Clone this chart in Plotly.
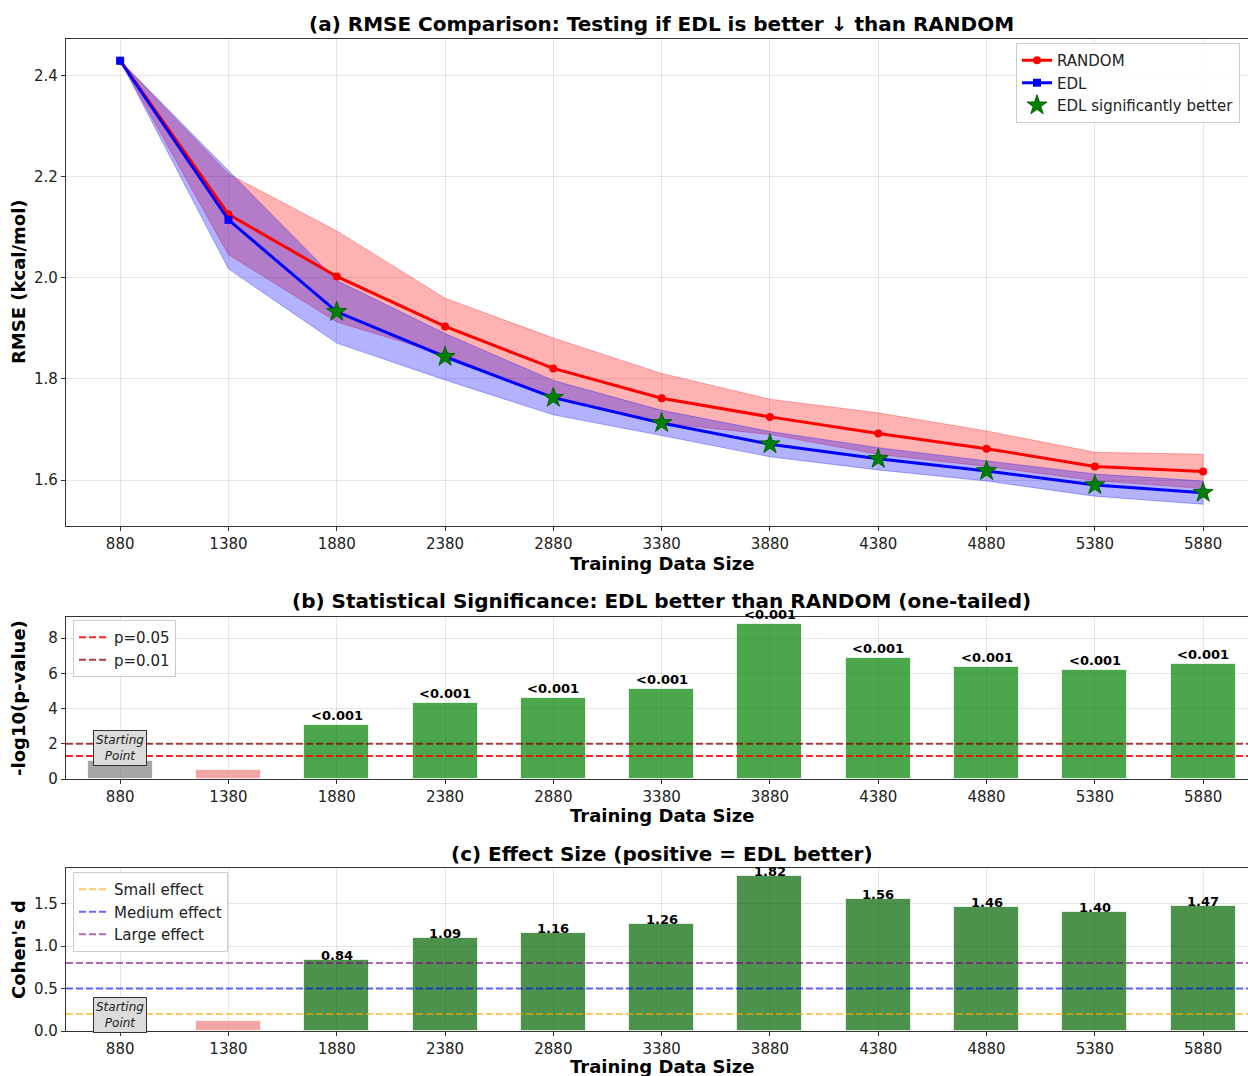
import plotly.graph_objects as go

# ---------------- data ----------------
sizes = [880, 1380, 1880, 2380, 2880, 3380, 3880, 4380, 4880, 5380, 5880]
rmse_random = [2.430, 2.126, 2.003, 1.904, 1.821, 1.762, 1.725, 1.692, 1.662, 1.627, 1.617]
std_random = [0.000, 0.080, 0.090, 0.056, 0.060, 0.049, 0.035, 0.041, 0.035, 0.028, 0.034]
rmse_edl = [2.430, 2.115, 1.933, 1.844, 1.763, 1.713, 1.671, 1.642, 1.618, 1.590, 1.575]
std_edl = [0.000, 0.097, 0.062, 0.046, 0.034, 0.025, 0.025, 0.022, 0.020, 0.022, 0.023]
significant = [False, False, True, True, True, True, True, True, True, True, True]
neglog_p = [1.00, 0.51, 3.06, 4.32, 4.62, 5.13, 8.78, 6.89, 6.36, 6.17, 6.53]
p_labels = ["", "", "<0.001", "<0.001", "<0.001", "<0.001", "<0.001", "<0.001", "<0.001", "<0.001", "<0.001"]
cohens_d = [0.0, 0.12, 0.84, 1.09, 1.16, 1.26, 1.82, 1.56, 1.46, 1.40, 1.47]
bar_kind = ["start", "ns", "sig", "sig", "sig", "sig", "sig", "sig", "sig", "sig", "sig"]
p_thresholds = [("p=0.05", 1.30103, "rgba(255,0,0,0.85)"), ("p=0.01", 2.0, "rgba(139,0,0,0.75)")]
d_thresholds = [("Small effect", 0.2, "rgba(255,165,0,0.6)"),
                ("Medium effect", 0.5, "rgba(0,0,255,0.6)"),
                ("Large effect", 0.8, "rgba(128,0,128,0.6)")]
tick_vals = sizes

# ---------------- layout geometry ----------------
W, H = 1248, 1076
L, R, T, B = 66, 0, 39, 45
plot_h = H - T - B
def py(px):  # pixel y -> paper y
    return (H - B - px) / plot_h
def pxx(px):
    return (px - L) / (W - L - R)

XR = [630, 630 + (W - L) / ((1203 - 120) / 5000)]
FONT = "DejaVu Sans"

fig = go.Figure()

# ---------------- panel (a) ----------------
upper_r = [m + s for m, s in zip(rmse_random, std_random)]
lower_r = [m - s for m, s in zip(rmse_random, std_random)]
upper_e = [m + s for m, s in zip(rmse_edl, std_edl)]
lower_e = [m - s for m, s in zip(rmse_edl, std_edl)]

fig.add_trace(go.Scatter(x=sizes + sizes[::-1], y=upper_r + lower_r[::-1], fill="toself",
                         fillcolor="rgba(255,0,0,0.3)", line=dict(color="rgba(255,0,0,0.3)", width=1),
                         hoverinfo="skip", showlegend=False, xaxis="x", yaxis="y"))
fig.add_trace(go.Scatter(x=sizes + sizes[::-1], y=upper_e + lower_e[::-1], fill="toself",
                         fillcolor="rgba(0,0,255,0.3)", line=dict(color="rgba(0,0,255,0.3)", width=1),
                         hoverinfo="skip", showlegend=False, xaxis="x", yaxis="y"))
fig.add_trace(go.Scatter(x=sizes, y=rmse_random, mode="lines+markers", name="RANDOM",
                         line=dict(color="red", width=3), marker=dict(symbol="circle", size=8, color="red"),
                         legend="legend", xaxis="x", yaxis="y"))
fig.add_trace(go.Scatter(x=sizes, y=rmse_edl, mode="lines+markers", name="EDL",
                         line=dict(color="blue", width=3), marker=dict(symbol="square", size=8, color="blue"),
                         legend="legend", xaxis="x", yaxis="y"))
sx = [s for s, f in zip(sizes, significant) if f]
sy = [v for v, f in zip(rmse_edl, significant) if f]
fig.add_trace(go.Scatter(x=sx, y=sy, mode="markers", name="EDL significantly better",
                         marker=dict(symbol="star", size=15, color="green", line=dict(color="darkgreen", width=1)),
                         legend="legend", xaxis="x", yaxis="y"))

# ---------------- panel (b) ----------------
col_b = {"start": "rgba(128,128,128,0.7)", "ns": "rgba(240,128,128,0.7)", "sig": "rgba(0,128,0,0.7)"}
col_c = {"start": "rgba(128,128,128,0.7)", "ns": "rgba(240,128,128,0.7)", "sig": "rgba(0,100,0,0.7)"}
fig.add_trace(go.Bar(x=sizes, y=neglog_p, width=300, marker=dict(color=[col_b[k] for k in bar_kind],
                     line=dict(color="rgba(255,255,255,0.7)", width=1)),
                     showlegend=False, xaxis="x2", yaxis="y2"))
for name, val, col in p_thresholds:
    fig.add_trace(go.Scatter(x=XR, y=[val, val], mode="lines", name=name,
                             line=dict(color=col, width=2, dash="7px,3px"),
                             legend="legend2", xaxis="x2", yaxis="y2"))

# ---------------- panel (c) ----------------
fig.add_trace(go.Bar(x=sizes, y=cohens_d, width=300, marker=dict(color=[col_c[k] for k in bar_kind],
                     line=dict(color="rgba(255,255,255,0.7)", width=1)),
                     showlegend=False, xaxis="x3", yaxis="y3"))
for name, val, col in d_thresholds:
    fig.add_trace(go.Scatter(x=XR, y=[val, val], mode="lines", name=name,
                             line=dict(color=col, width=2, dash="7px,3px"),
                             legend="legend3", xaxis="x3", yaxis="y3"))

ann = []
for s, v, lab in zip(sizes, neglog_p, p_labels):
    if lab:
        ann.append(dict(x=s, y=v, xref="x2", yref="y2", text="<b>%s</b>" % lab, showarrow=False,
                        xanchor="center", yanchor="bottom", yshift=0,
                        font=dict(size=13, color="black", family=FONT)))
for s, v, k in zip(sizes, cohens_d, bar_kind):
    if k == "sig":
        ann.append(dict(x=s, y=v, xref="x3", yref="y3", text="<b>%.2f</b>" % v, showarrow=False,
                        xanchor="center", yanchor="bottom", yshift=-5,
                        font=dict(size=13, color="black", family=FONT)))

start_box = dict(text="<i>Starting<br>Point</i>", showarrow=False, bgcolor="#dcdcdc",
                 bordercolor="#333", borderwidth=1, borderpad=2, xanchor="center", yanchor="middle",
                 font=dict(size=12, color="#222", family=FONT))
ann.append(dict(x=sizes[0], y=1.75, xref="x2", yref="y2", **start_box))
ann.append(dict(x=sizes[0], y=0.19, xref="x3", yref="y3", **start_box))

title_font = dict(size=20, color="black", family=FONT)
cx = pxx(661.5)
ctr = dict(xref="paper", yref="paper", showarrow=False, xanchor="center", yanchor="middle")
ann += [
    dict(ctr, x=cx, y=py(24), font=title_font,
         text="<b>(a) RMSE Comparison: Testing if EDL is better ↓ than RANDOM</b>"),
    dict(ctr, x=cx, y=py(601), font=title_font,
         text="<b>(b) Statistical Significance: EDL better than RANDOM (one-tailed)</b>"),
    dict(ctr, x=cx, y=py(854), font=title_font,
         text="<b>(c) Effect Size (positive = EDL better)</b>"),
]
lab_font = dict(size=18, color="black", family=FONT)
for ypx in (563, 815, 1066):
    ann.append(dict(ctr, x=cx, y=py(ypx), font=lab_font, text="<b>Training Data Size</b>"))
for ypx, t in ((282, "RMSE (kcal/mol)"), (698, "-log10(p-value)"), (950, "Cohen's d")):
    ann.append(dict(ctr, x=pxx(18), y=py(ypx), font=lab_font, text="<b>%s</b>" % t, textangle=-90))

axis_common = dict(showgrid=True, gridcolor="rgba(0,0,0,0.1)", gridwidth=1, zeroline=False,
                   showline=True, linecolor="#333", linewidth=1.3, ticks="outside", ticklen=4,
                   tickcolor="#333", tickfont=dict(size=15, color="#222", family=FONT))
xax = dict(axis_common, range=XR, tickmode="array", tickvals=tick_vals,
           ticktext=[str(v) for v in tick_vals], mirror=True)

leg_common = dict(xanchor="left", yanchor="top", bgcolor="rgba(255,255,255,0.9)",
                  bordercolor="#ccc", borderwidth=1, font=dict(size=15, color="#222", family=FONT))
fig.update_layout(
    width=W, height=H, margin=dict(l=L, r=R, t=T, b=B, autoexpand=False),
    paper_bgcolor="white", plot_bgcolor="white", bargap=0,
    font=dict(family=FONT),
    xaxis=dict(xax, domain=[0, 1], anchor="y"),
    yaxis=dict(axis_common, domain=[py(526), py(39)], range=[1.509, 2.473],
               tickvals=[1.6, 1.8, 2.0, 2.2, 2.4], ticktext=["1.6", "1.8", "2.0", "2.2", "2.4"], anchor="x"),
    xaxis2=dict(xax, domain=[0, 1], anchor="y2"),
    yaxis2=dict(axis_common, domain=[py(779), py(617)], range=[0, 9.2],
                tickvals=[0, 2, 4, 6, 8], anchor="x2"),
    xaxis3=dict(xax, domain=[0, 1], anchor="y3"),
    yaxis3=dict(axis_common, domain=[py(1031), py(868)], range=[0, 1.92],
                tickvals=[0, 0.5, 1.0, 1.5], ticktext=["0.0", "0.5", "1.0", "1.5"], anchor="x3"),
    legend=dict(leg_common, x=pxx(1016), y=py(43)),
    legend2=dict(leg_common, x=pxx(73), y=py(620)),
    legend3=dict(leg_common, x=pxx(73), y=py(872)),
    annotations=ann,
)

fig.write_html("out.html")
